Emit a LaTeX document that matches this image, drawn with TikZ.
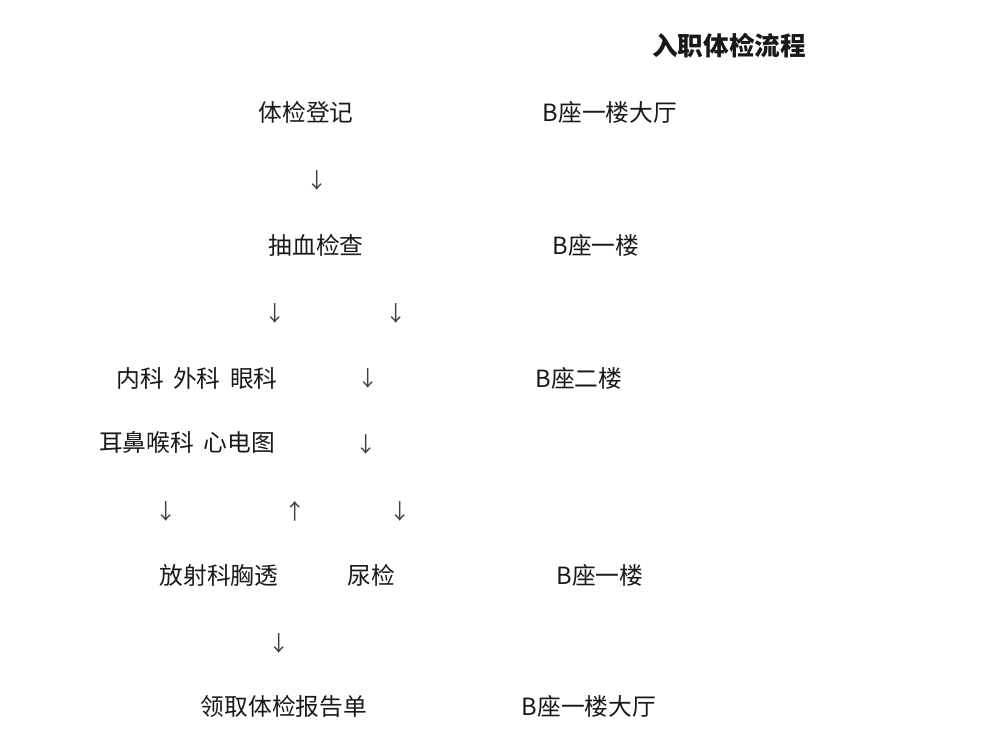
\documentclass[tikz,border=0pt]{standalone}
\usepackage{fontspec}
\setmainfont{Noto Sans CJK SC}
\begin{document}
\begin{tikzpicture}[x=0.75pt, y=-0.75pt]
	\tikzstyle{titlebox} = [inner sep=0pt, font=\fontsize{19.2}{21}\selectfont\bfseries, text=black!90]
	\tikzstyle{stepbox}  = [inner sep=0pt, font=\fontsize{17.8}{19}\selectfont, text=black!90]
	\tikzstyle{placebox} = [inner sep=0pt, font=\fontsize{17.8}{19}\selectfont, text=black!90]
	\tikzstyle{arrowsym} = [inner sep=0pt, font=\fontsize{16}{18}\selectfont, text=black!75]

	\fill[white] (0,0) rectangle (1002,752);
	\useasboundingbox (0,0) rectangle (1002,752);

	\node[titlebox] (title) at (729, 46) {入职体检流程};

	% steps
	\foreach \name/\x/\y/\text in {reg/306/112/体检登记, blood/316/245/抽血检查, inner/197/378/内科\hspace{0.4em}外科\hspace{0.4em}眼科, ent/187/442/耳鼻喉科\hspace{0.4em}心电图, xray/219/575/放射科胸透, urine/371/575/尿检, report/284/706/领取体检报告单}
		\node[stepbox] (\name) at (\x, \y) {\text};

	% places
	\foreach \name/\x/\y/\text in {pa/610/112/B座一楼大厅, pb/596/245/B座一楼, pc/579/378/B座二楼, pd/600/575/B座一楼, pe/589/706/B座一楼大厅}
		\node[placebox] (\name) at (\x, \y) {\text};

	% arrows
	\foreach \name/\x/\y/\sym in {ar1/317/180/↓, ar2/275/313/↓, ar3/396/313/↓, ar4/368/378/↓, ar5/366/444/↓, ar6/166/511/↓, ar7/295/511/↑, ar8/400/511/↓, ar9/279/643/↓}
		\node[arrowsym] (\name) at (\x, \y) {\sym};
\end{tikzpicture}
\end{document}
